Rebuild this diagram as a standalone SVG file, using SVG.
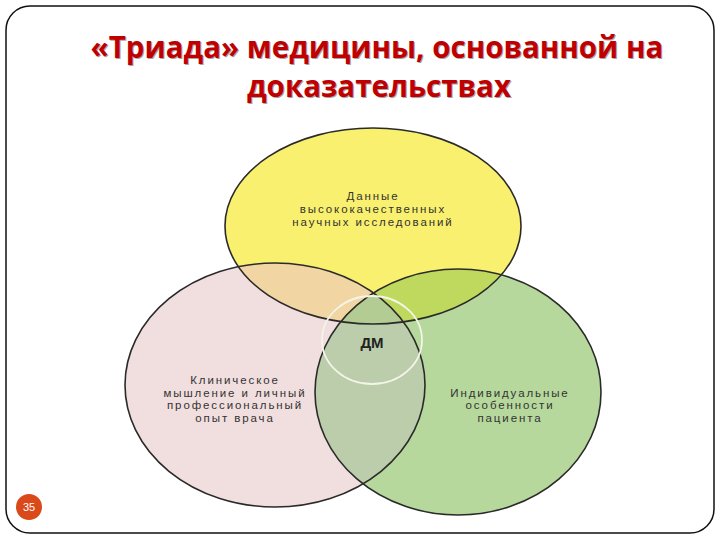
<svg xmlns="http://www.w3.org/2000/svg" width="720" height="540" viewBox="0 0 720 540">
<style>
.title{font-family:"Open Sans","Liberation Sans",sans-serif;font-weight:bold;font-size:29.5px;fill:#c00000;text-anchor:middle}
.shadow{font-family:"Open Sans","Liberation Sans",sans-serif;font-weight:bold;font-size:29.5px;fill:#000;opacity:0.35;text-anchor:middle}
.lbl{font-family:"Liberation Sans",Arial,sans-serif;font-size:11.5px;fill:#333;text-anchor:middle;letter-spacing:1.9px}
.edge{fill:none;stroke:#2a2a2a;stroke-width:1.6}
</style>
<defs>
<clipPath id="cy"><ellipse cx="373" cy="226" rx="148" ry="98"/></clipPath>
<clipPath id="cp"><ellipse cx="275" cy="385" rx="150" ry="122"/></clipPath>
<clipPath id="cg"><ellipse cx="458" cy="392" rx="143" ry="123"/></clipPath>
</defs>
<rect x="0" y="0" width="720" height="540" fill="#fff"/>
<rect x="6" y="6" width="708" height="527" rx="24" ry="24" fill="#fff" stroke="#111" stroke-width="1.5"/>
<g id="title">
<text class="shadow" x="378" y="59">«Триада» медицины, основанной на</text>
<text class="title" x="377" y="58">«Триада» медицины, основанной на</text>
<text class="shadow" x="380" y="98">доказательствах</text>
<text class="title" x="379" y="97">доказательствах</text>
</g>
<g id="fills">
<ellipse cx="275" cy="385" rx="150" ry="122" fill="#f1dede"/>
<ellipse cx="458" cy="392" rx="143" ry="123" fill="#b6d89c"/>
<ellipse cx="373" cy="226" rx="148" ry="98" fill="#f8f06e"/>
<g clip-path="url(#cp)"><ellipse cx="458" cy="392" rx="143" ry="123" fill="#bccdab"/></g>
<g clip-path="url(#cy)"><ellipse cx="275" cy="385" rx="150" ry="122" fill="#f1d5a2"/></g>
<g clip-path="url(#cy)"><ellipse cx="458" cy="392" rx="143" ry="123" fill="#bfd95e"/></g>
<g clip-path="url(#cy)"><g clip-path="url(#cp)"><ellipse cx="458" cy="392" rx="143" ry="123" fill="#b3cc94"/></g></g>
</g>
<g id="connectors">
<ellipse class="edge" cx="373" cy="226" rx="148" ry="98"/>
<ellipse class="edge" cx="275" cy="385" rx="150" ry="122"/>
<ellipse class="edge" cx="458" cy="392" rx="143" ry="123"/>
</g>
<g id="node-data">
<text class="lbl" x="373" y="200">Данные</text>
<text class="lbl" x="373" y="213">высококачественных</text>
<text class="lbl" x="373" y="226">научных исследований</text>
</g>
<g id="node-clinical">
<text class="lbl" x="235" y="384">Клиническое</text>
<text class="lbl" x="235" y="396.5">мышление и личный</text>
<text class="lbl" x="235" y="409">профессиональный</text>
<text class="lbl" x="235" y="421.5">опыт врача</text>
</g>
<g id="node-patient">
<text class="lbl" x="510" y="396.5">Индивидуальные</text>
<text class="lbl" x="510" y="409">особенности</text>
<text class="lbl" x="510" y="421.5">пациента</text>
</g>
<g id="node-dm">
<ellipse cx="372" cy="340" rx="50" ry="44" fill="none" stroke="#f4f4e8" stroke-width="1.8"/>
<text x="372" y="348" font-family="Liberation Sans,Arial,sans-serif" font-weight="bold" font-size="15" fill="#222" text-anchor="middle">ДМ</text>
</g>
<g id="page">
<circle cx="29" cy="507" r="13" fill="#d9491a"/>
<text x="29" y="511" font-family="Liberation Sans,Arial,sans-serif" font-size="11" fill="#fff" text-anchor="middle">35</text>
</g>
</svg>
